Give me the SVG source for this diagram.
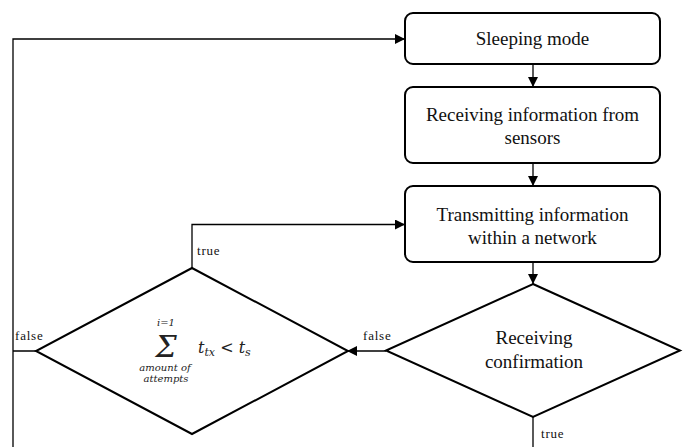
<svg xmlns="http://www.w3.org/2000/svg" width="686" height="447" viewBox="0 0 686 447">
<style>
.node{fill:#fff;stroke:#000;stroke-width:2}
.lbl{font-family:'Liberation Serif','DejaVu Serif',serif;font-size:19px;fill:#111;text-anchor:middle}
.small{font-family:'Liberation Serif','DejaVu Serif',serif;font-size:13px;fill:#111;letter-spacing:0.8px}
.conn{fill:none;stroke:#000;stroke-width:1.3}
.math{font-family:'DejaVu Serif','Liberation Serif',serif;font-style:italic;fill:#222}
</style>
<defs>
<marker id="ah" viewBox="0 0 10 10" refX="10" refY="5" markerWidth="10" markerHeight="10" markerUnits="userSpaceOnUse" orient="auto">
<path d="M0,0 L10,5 L0,10 Z" fill="#000"/>
</marker>
</defs>
<rect width="686" height="447" fill="#fff"/>
<g id="connectors">
<path class="conn" d="M533,64 V87" marker-end="url(#ah)"/>
<path class="conn" d="M533,163 V186" marker-end="url(#ah)"/>
<path class="conn" d="M533,262 V284" marker-end="url(#ah)"/>
<path class="conn" d="M386,351 H347" marker-end="url(#ah)"/>
<path class="conn" d="M192,268 V224.5 H405" marker-end="url(#ah)"/>
<path class="conn" d="M36,351 H13 M13,447 V39 H405" marker-end="url(#ah)"/>
<path class="conn" d="M533,417 V447"/>
<text class="small" x="197" y="255">true</text>
<text class="small" x="15" y="340">false</text>
<text class="small" x="363" y="340">false</text>
<text class="small" x="541" y="438">true</text>
</g>
<g id="sleeping">
<rect class="node" x="405" y="13" width="255" height="51" rx="8"/>
<text class="lbl" x="532.5" y="45">Sleeping mode</text>
</g>
<g id="receiving-info">
<rect class="node" x="405" y="87" width="255" height="76" rx="8"/>
<text class="lbl" x="532.5" y="121">Receiving information from</text>
<text class="lbl" x="532.5" y="144">sensors</text>
</g>
<g id="transmitting">
<rect class="node" x="405" y="186" width="255" height="76" rx="8"/>
<text class="lbl" x="532.5" y="221">Transmitting information</text>
<text class="lbl" x="532.5" y="244">within a network</text>
</g>
<g id="confirmation">
<polygon class="node" points="533,284 680,350.5 533,417 386,350.5"/>
<text class="lbl" x="534" y="344">Receiving</text>
<text class="lbl" x="534" y="368">confirmation</text>
</g>
<g id="attempts">
<polygon class="node" points="192,268 348,351 192,434 36,351"/>
<text class="math" x="166" y="326" font-size="10" font-style="normal" text-anchor="middle">i=1</text>
<text class="math" x="166" y="357" font-size="30" font-style="normal" text-anchor="middle">Σ</text>
<text class="math" x="165" y="371" font-size="10" text-anchor="middle">amount of</text>
<text class="math" x="166" y="382" font-size="10" text-anchor="middle">attempts</text>
<text class="math" x="198" y="353" font-size="16">t<tspan font-size="11" dy="3">tx</tspan><tspan font-style="normal" font-size="16" dy="-3"> &lt; </tspan>t<tspan font-size="11" dy="3">s</tspan></text>
</g>
</svg>
